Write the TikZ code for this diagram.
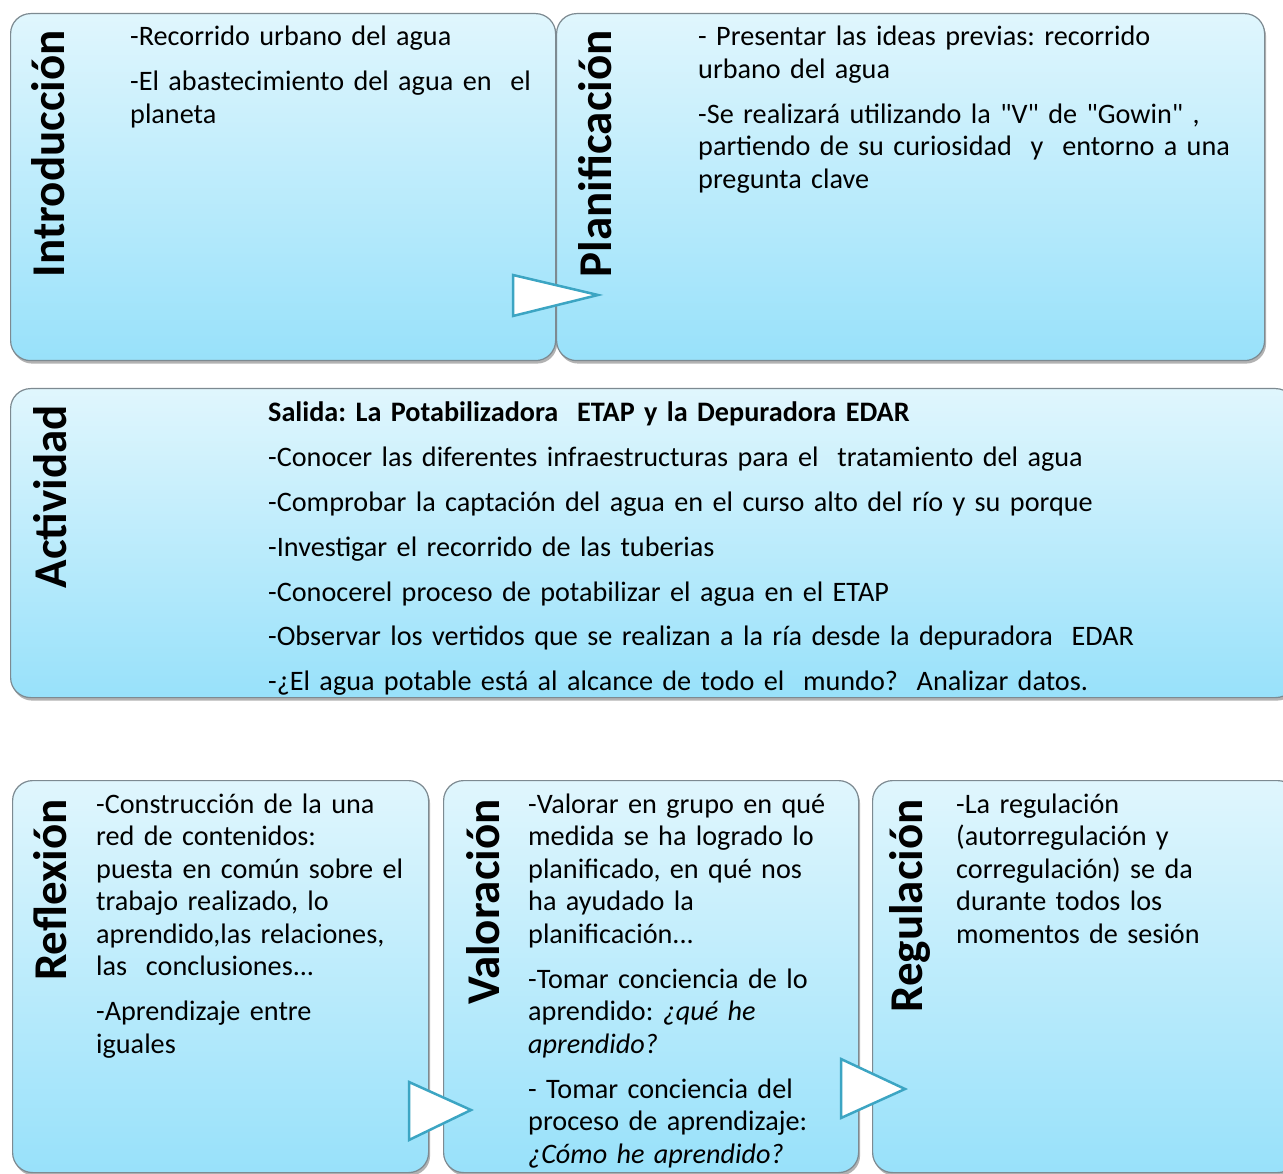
\documentclass[tikz,border=0pt]{standalone}
\usepackage{fontspec}
\setmainfont[Ligatures=TeXOff]{Carlito}
\usetikzlibrary{shadows}
\definecolor{boxtop}{RGB}{224,246,253}
\definecolor{boxbot}{RGB}{152,225,250}
\definecolor{boxline}{RGB}{125,138,145}
\definecolor{tricol}{RGB}{60,165,195}
\frenchspacing
\begin{document}
\begin{tikzpicture}[x=1pt,y=-1pt,
  box/.style={draw=boxline, line width=1.2pt, rounded corners=20pt,
    top color=boxtop, bottom color=boxbot, inner sep=0pt, anchor=north west,
    drop shadow={shadow xshift=1.5pt, shadow yshift=-3pt, opacity=0.3, fill=black}},
  ttl/.style={rotate=90, anchor=base east, inner sep=0pt, font=\fontsize{47}{50}\selectfont\bfseries},
  txt/.style={anchor=base west, inner sep=0pt, text width=1100pt, align=left,
    font=\fontsize{28.2}{32.5}\selectfont\frenchspacing},
  txtwide/.style={anchor=base west, inner sep=0pt, text width=1100pt, align=left,
    font=\fontsize{28.2}{45}\selectfont\frenchspacing},
  tri/.style={draw=tricol, line width=2.5pt, fill=white, line join=miter}]
\useasboundingbox (0,0) rectangle (1283,1174);
\clip (0,0) rectangle (1283,1174);
\fill[white] (0,0) rectangle (1283,1174);

% boxes
\node[box, minimum width=545pt, minimum height=347pt] (b1) at (10,13) {};
\node[box, minimum width=708pt, minimum height=347pt] (b2) at (556,13) {};
\node[box, minimum width=1285pt, minimum height=309pt] (b3) at (10,388) {};
\node[box, minimum width=416pt, minimum height=392pt] (b4) at (12,780) {};
\node[box, minimum width=415pt, minimum height=392pt] (b5) at (443,780) {};
\node[box, minimum width=425pt, minimum height=392pt] (b6) at (872,780) {};

% titles
\node[ttl] (t1) at (64,30) {Introducción};
\node[ttl] (t2) at (611,30) {Planificación};
\node[ttl] (t3) at (66,405) {Actividad};
\node[ttl] (t4) at (66,799) {Reflexión};
\node[ttl] (t5) at (499,799) {Valoración};
\node[ttl] (t6) at (922,799) {Regulación};

% texts
\node[txt] (x1) at (130,46) {-Recorrido urbano del agua\\[12.5pt]
-El abastecimiento del agua en \ el\\
planeta};
\node[txt] (x2) at (698,46) {- Presentar las ideas previas: recorrido\\
urbano del agua\\[12.5pt]
-Se realizará utilizando la "V" de "Gowin" ,\\
partiendo de su curiosidad \ y \ entorno a una\\
pregunta clave};
\node[txtwide] (x3) at (268,421) {\textbf{Salida: La Potabilizadora \ ETAP y la Depuradora EDAR}\\
-Conocer las diferentes infraestructuras para el \ tratamiento del agua\\
-Comprobar la captación del agua en el curso alto del río y su porque\\
-Investigar el recorrido de las tuberias\\
-Conocerel proceso de potabilizar el agua en el ETAP\\
-Observar los vertidos que se realizan a la ría desde la depuradora \ EDAR\\
-¿El agua potable está al alcance de todo el \ mundo? \ Analizar datos.};
\node[txt] (x4) at (96,813) {-Construcción de la una\\
red de contenidos:\\
puesta en común sobre el\\
trabajo realizado, lo\\
aprendido,las relaciones,\\
las \ conclusiones...\\[12.5pt]
-Aprendizaje entre\\
iguales};
\node[txt] (x5) at (528,813) {-Valorar en grupo en qué\\
medida se ha logrado lo\\
planificado, en qué nos\\
ha ayudado la\\
planificación...\\[12.5pt]
-Tomar conciencia de lo\\
aprendido: \textit{¿qué he}\\
\textit{aprendido?}\\[12.5pt]
- Tomar conciencia del\\
proceso de aprendizaje:\\
\textit{¿Cómo he aprendido?}};
\node[txt] (x6) at (956,813) {-La regulación\\
(autorregulación y\\
corregulación) se da\\
durante todos los\\
momentos de sesión};

% arrow triangles
\coordinate (a1) at (513,275);
\coordinate (a1t) at (598,295);
\coordinate (a1b) at (513,316);
\draw[tri] (a1) -- (a1t) -- (a1b) -- cycle;
\coordinate (a2) at (409,1082);
\coordinate (a2t) at (471,1110);
\coordinate (a2b) at (409,1140);
\draw[tri] (a2) -- (a2t) -- (a2b) -- cycle;
\coordinate (a3) at (841,1059);
\coordinate (a3t) at (905,1089);
\coordinate (a3b) at (841,1118);
\draw[tri] (a3) -- (a3t) -- (a3b) -- cycle;
\end{tikzpicture}
\end{document}
